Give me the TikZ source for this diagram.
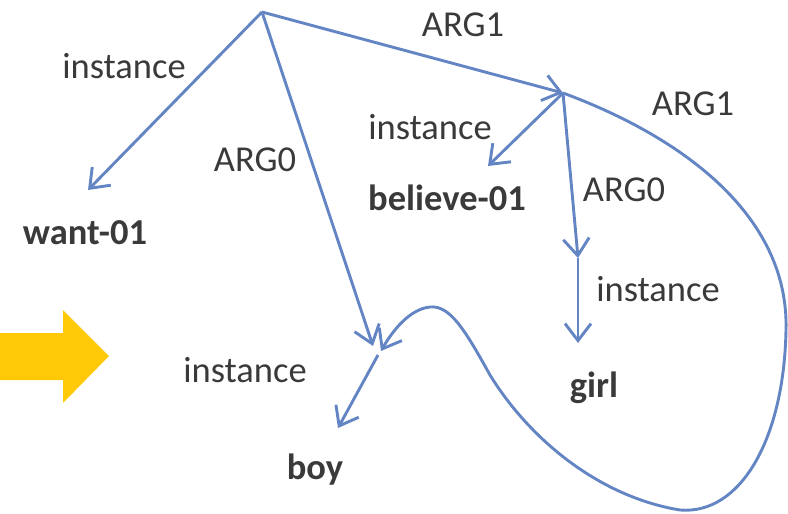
\documentclass[tikz,border=0pt]{standalone}
\usepackage{fontspec}
\setmainfont{Carlito}
\usetikzlibrary{arrows.meta}
\definecolor{edge}{HTML}{6485C4}
\definecolor{txt}{HTML}{3A3A3A}
\definecolor{gold}{HTML}{FFC907}
\tikzset{
  lbl/.style={text=txt, font=\fontsize{36.5}{40}\selectfont, inner sep=0pt},
  concept/.style={text=txt, font=\fontsize{36.5}{40}\selectfont\bfseries, inner sep=0pt},
  rel/.style={draw=edge, line width=2.9pt, -{Straight Barb[length=17pt,width=26pt]}},
  plain/.style={draw=edge, line width=2.9pt}
}
\begin{document}
\begin{tikzpicture}[x=1pt,y=-1pt]
\useasboundingbox (0,0) rectangle (788,514);
% yellow arrow
\fill[gold] (0,333) -- (63,333) -- (63,310) -- (109,356) -- (63,403) -- (63,380) -- (0,380) -- cycle;
% points
\coordinate (root) at (262,12);
\coordinate (wantT) at (88,190);
\coordinate (bel) at (563,93);
\coordinate (belT) at (488,166);
\coordinate (girlN) at (578,258);
\coordinate (girlT) at (578,343);
\coordinate (boyA) at (373,346);
\coordinate (boyB) at (381,351);
\coordinate (boyN) at (378,355);
\coordinate (boyT) at (338,428);
% edges
\draw[rel] (root) -- (wantT);
\draw[rel] (root) -- (boyA);
\draw[rel] (root) -- (bel);
\draw[rel] (bel) -- (belT);
\draw[rel] (bel) -- (girlN);
\draw[rel] (girlN) -- (girlT);
\draw[rel] (boyN) -- (boyT);
\draw[rel] (bel) .. controls (690,140) and (789,220) .. (786,330)
  .. controls (784,440) and (740,515) .. (680,510)
  .. controls (600,497) and (530,440) .. (490,375)
  .. controls (465,330) and (450,305) .. (430,307)
  .. controls (410,309) and (393,330) .. (boyB);
% labels
\node[lbl] (l1) at (124,66) {instance};
\node[lbl] (l2) at (255,160) {ARG0};
\node[lbl] (l3) at (463,25) {ARG1};
\node[lbl] (l4) at (430,127) {instance};
\node[lbl] (l5) at (624,190) {ARG0};
\node[lbl] (l6) at (693,104) {ARG1};
\node[lbl] (l7) at (658,289) {instance};
\node[lbl] (l8) at (245,370) {instance};
\node[concept] (want) at (85,233) {want-01};
\node[concept] (believe) at (447,198) {believe-01};
\node[concept] (girl) at (594,388) {girl};
\node[concept] (boy) at (315,470) {boy};
\end{tikzpicture}
\end{document}
